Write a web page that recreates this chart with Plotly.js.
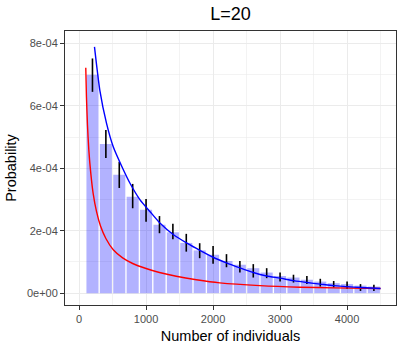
<!DOCTYPE html>
<html>
<head>
<meta charset="utf-8">
<script src="https://cdn.plot.ly/plotly-3.0.1.min.js"></script>
<style>
  html, body { margin: 0; padding: 0; background: #fff; }
  #chart { width: 404px; height: 350px; }
</style>
</head>
<body>
<div id="chart"></div>
<script>
'use strict'

// bars: observed probability per size class (bin centres)
var binX = [200, 400, 600, 800, 1000, 1200, 1400, 1600, 1800, 2000, 2200,
            2400, 2600, 2800, 3000, 3200, 3400, 3600, 3800, 4000, 4200, 4400];
var binP = [7.00e-4, 4.78e-4, 3.79e-4, 3.09e-4, 2.67e-4, 2.19e-4, 1.95e-4, 1.61e-4,
            1.37e-4, 1.23e-4, 1.03e-4, 9.1e-5, 8.0e-5, 6.6e-5, 5.5e-5, 5.0e-5,
            4.3e-5, 3.7e-5, 3.2e-5, 2.9e-5, 2.4e-5, 2.1e-5];
// error bar ends
var errLo = [6.45e-4, 4.33e-4, 3.37e-4, 2.72e-4, 2.29e-4, 1.92e-4, 1.73e-4, 1.33e-4,
             1.12e-4, 9.4e-5, 8.3e-5, 6.6e-5, 5.0e-5, 4.8e-5, 3.7e-5, 3.4e-5,
             2.9e-5, 2.1e-5, 1.8e-5, 1.3e-5, 7e-6, 7e-6];
var errHi = [7.52e-4, 5.23e-4, 4.21e-4, 3.50e-4, 3.02e-4, 2.47e-4, 2.22e-4, 1.90e-4,
             1.60e-4, 1.51e-4, 1.25e-4, 1.03e-4, 9.3e-5, 8.0e-5, 6.6e-5, 5.9e-5,
             5.5e-5, 4.6e-5, 3.9e-5, 3.7e-5, 2.9e-5, 2.7e-5];

// blue curve
var blueX = [230, 310, 410, 510, 640, 760, 910, 1060, 1210, 1410, 1610, 1810, 2000,
             2200, 2400, 2600, 2800, 3000, 3200, 3400, 3600, 3800, 4000, 4200, 4500];
var blueY = [7.89e-4, 6.50e-4, 5.44e-4, 4.69e-4, 4.05e-4, 3.52e-4, 2.99e-4, 2.61e-4,
             2.24e-4, 1.87e-4, 1.60e-4, 1.36e-4, 1.15e-4, 9.7e-5, 8.1e-5, 6.6e-5,
             5.5e-5, 4.8e-5, 4.0e-5, 3.4e-5, 2.9e-5, 2.4e-5, 2.1e-5, 1.8e-5, 1.5e-5];

// red curve
var redX = [100, 110, 125, 145, 175, 210, 260, 320, 400, 510, 650, 800, 1000,
            1200, 1450, 1750, 2100, 2700, 3300, 3800, 4500];
var redY = [7.22e-4, 6.30e-4, 5.40e-4, 4.60e-4, 3.84e-4, 3.20e-4, 2.62e-4, 2.15e-4,
            1.75e-4, 1.39e-4, 1.13e-4, 9.5e-5, 7.9e-5, 6.6e-5, 5.4e-5, 4.3e-5,
            3.3e-5, 2.4e-5, 1.9e-5, 1.7e-5, 1.5e-5];

var yTicks = [0, 2e-4, 4e-4, 6e-4, 8e-4];
var yTickText = ['0e+00', '2e-04', '4e-04', '6e-04', '8e-04'];
var xTicks = [0, 1000, 2000, 3000, 4000];

var font = 'Liberation Sans, Arial, sans-serif';

var bars = {
    type: 'bar',
    x: binX, y: binP,
    marker: {color: 'rgba(0,0,255,0.3)', line: {width: 0}},
    error_y: {
        type: 'data', symmetric: false,
        array: errHi.map((v, i) => v - binP[i]),
        arrayminus: errLo.map((v, i) => binP[i] - v),
        color: '#000000', thickness: 1.6, width: 0
    },
    hoverinfo: 'skip'
}

var redLine = {
    type: 'scatter', mode: 'lines',
    x: redX, y: redY,
    line: {color: '#ff0000', width: 1.4, shape: 'spline', smoothing: 0.6},
    hoverinfo: 'skip'
}

var blueLine = {
    type: 'scatter', mode: 'lines',
    x: blueX, y: blueY,
    line: {color: '#0000ff', width: 1.4, shape: 'spline', smoothing: 0.6},
    hoverinfo: 'skip'
}

var layout = {
    width: 404,
    height: 350,
    margin: {l: 65, r: 8, t: 31, b: 45},
    paper_bgcolor: '#ffffff',
    plot_bgcolor: '#ffffff',
    showlegend: false,
    bargap: 0.1,
    font: {family: font, color: '#000000'},
    title: {
        text: 'L=20',
        font: {family: font, size: 18, color: '#000000'},
        x: 0.5, xref: 'paper', xanchor: 'center',
        y: 0.96, yref: 'container', yanchor: 'middle'
    },
    xaxis: {
        range: [-210, 4730],
        tickmode: 'array', tickvals: xTicks,
        ticks: 'outside', ticklen: 4, tickcolor: '#333333', tickwidth: 1,
        tickfont: {family: font, size: 11, color: '#4d4d4d'},
        showline: true, mirror: true, linecolor: '#333333', linewidth: 1,
        showgrid: true, gridcolor: '#ebebeb', gridwidth: 1,
        zeroline: false,
        minor: {tickmode: 'array', tickvals: [500, 1500, 2500, 3500, 4500],
                showgrid: true, gridcolor: '#ebebeb', gridwidth: 0.6, ticks: ''},
        title: {text: 'Number of individuals', font: {family: font, size: 14.5, color: '#000000'}, standoff: 6}
    },
    yaxis: {
        range: [-3.8e-5, 8.4e-4],
        tickmode: 'array', tickvals: yTicks, ticktext: yTickText,
        ticks: 'outside', ticklen: 4, tickcolor: '#333333', tickwidth: 1,
        tickfont: {family: font, size: 11, color: '#4d4d4d'},
        showline: true, mirror: true, linecolor: '#333333', linewidth: 1,
        showgrid: true, gridcolor: '#ebebeb', gridwidth: 1,
        zeroline: false,
        minor: {tickmode: 'array', tickvals: [1e-4, 3e-4, 5e-4, 7e-4],
                showgrid: true, gridcolor: '#ebebeb', gridwidth: 0.6, ticks: ''},
        title: {text: 'Probability', font: {family: font, size: 14.5, color: '#000000'}, standoff: 6}
    }
}

Plotly.newPlot('chart', [bars, redLine, blueLine], layout, {staticPlot: true, displayModeBar: false});
</script>
</body>
</html>
